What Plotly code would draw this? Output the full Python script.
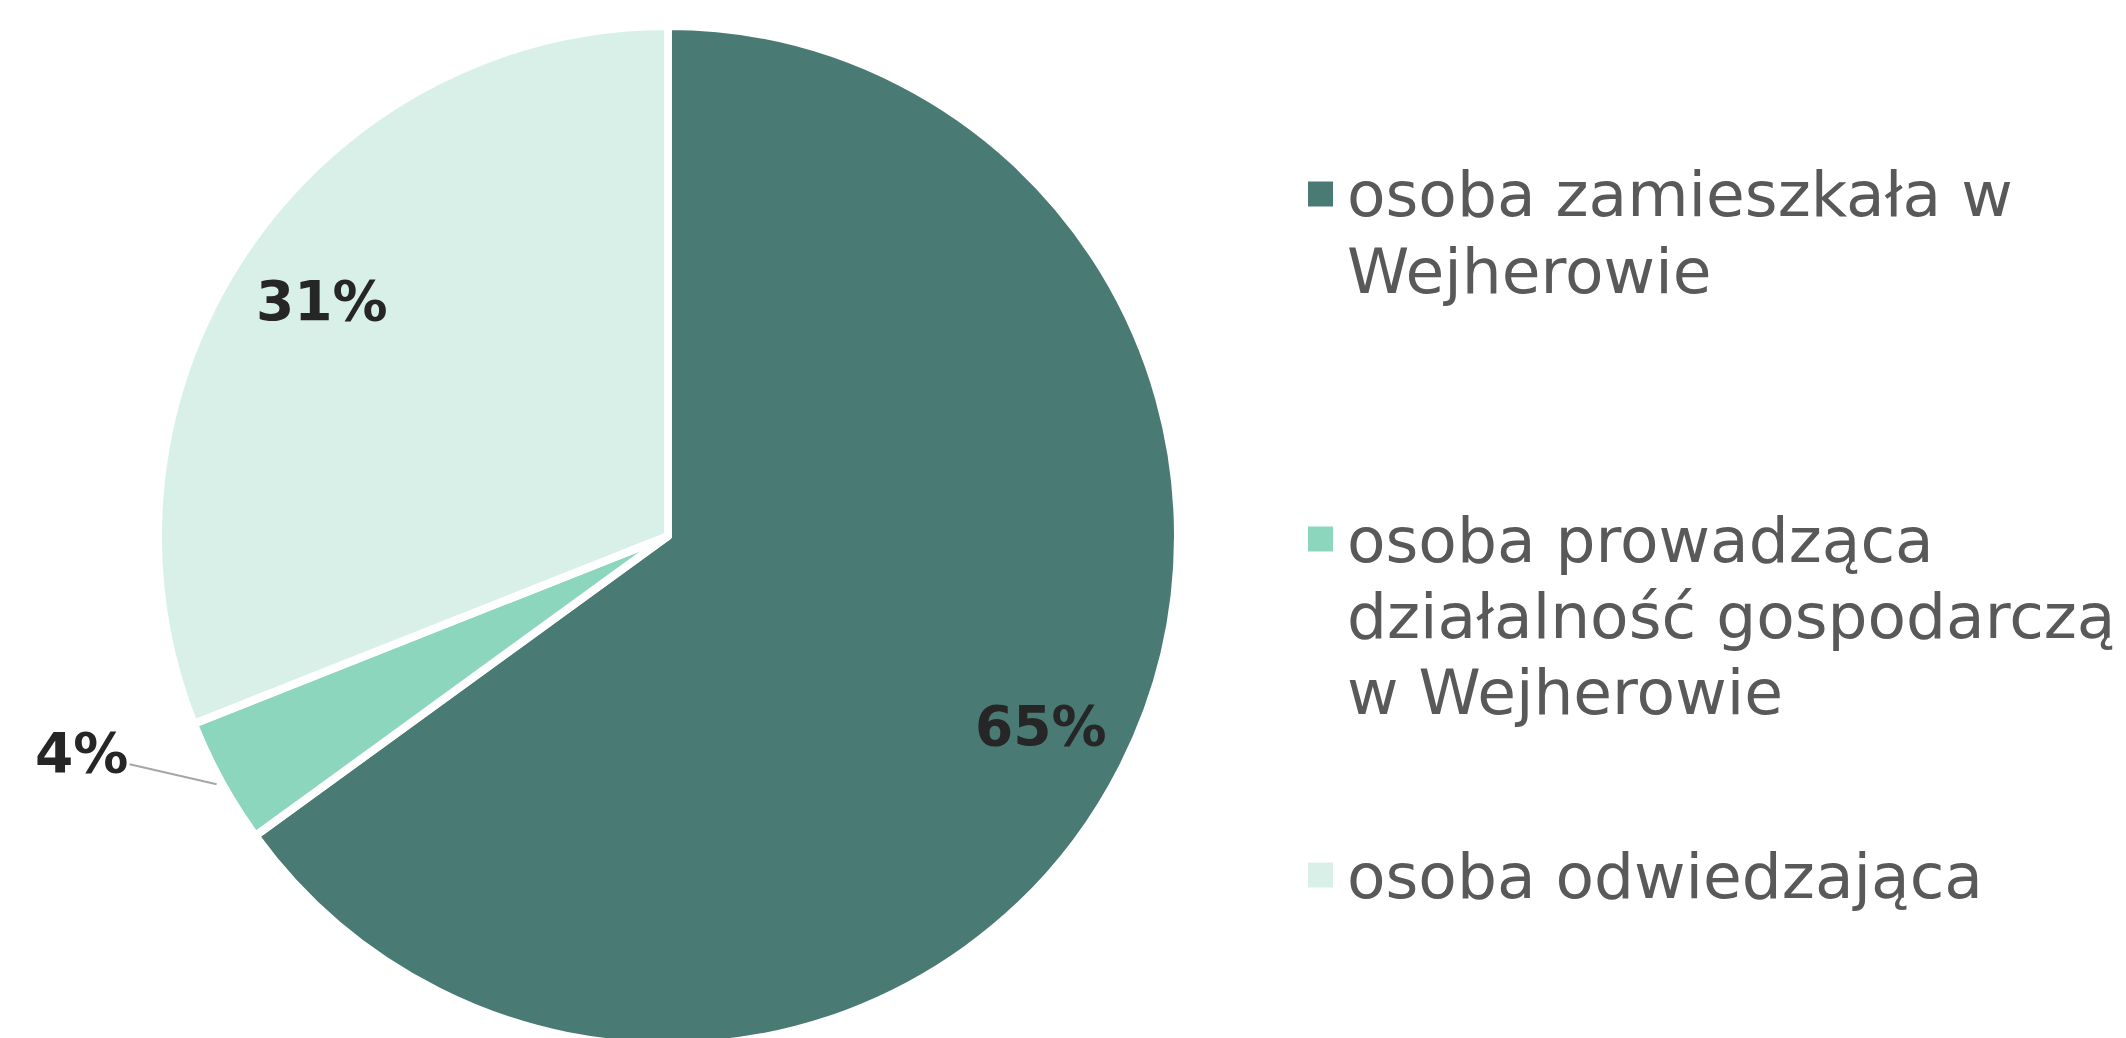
import math
import plotly.graph_objects as go

labels = ["osoba zamieszkała w Wejherowie",
          "osoba prowadząca działalność gospodarczą w Wejherowie",
          "osoba odwiedzająca"]
legend_lines = [["osoba zamieszkała w", "Wejherowie"],
                ["osoba prowadząca", "działalność gospodarczą", "w Wejherowie"],
                ["osoba odwiedzająca"]]
values = [65, 4, 31]
colors = ["#497A74", "#8DD6BE", "#D9F0E8"]

W, H = 2126, 1038
cx, cy, R = 660, 528, 510

fig = go.Figure(go.Pie(
    labels=labels, values=values, sort=False, direction="clockwise", rotation=0,
    marker=dict(colors=colors, line=dict(color="white", width=8)),
    textinfo="none", showlegend=False, hoverinfo="label+percent",
    domain=dict(x=[(cx - R) / W, (cx + R) / W],
                y=[max(0.0, 1 - (cy + R) / H), min(1.0, 1 - (cy - R) / H)]),
))

# data labels placed along each slice's mid-angle
total = sum(values)
cum = 0
for v in values:
    theta = math.radians((cum + v / 2) / total * 360)
    cum += v
    sx, sy = math.sin(theta), -math.cos(theta)
    txt = f"<b>{v}%</b>"
    font = dict(family="DejaVu Sans", size=55, color="#262626")
    if v / total >= 0.1:
        px, py = cx + 0.82 * R * sx, cy + 0.82 * R * sy
        fig.add_annotation(x=px / W, y=1 - py / H, xref="paper", yref="paper",
                           text=txt, showarrow=False, font=font,
                           xanchor="center", yanchor="middle")
    else:
        px, py = cx + 1.01 * R * sx, cy + 1.01 * R * sy
        fig.add_annotation(x=px / W, y=1 - py / H, xref="paper", yref="paper",
                           text=txt, showarrow=True, arrowhead=0, arrowwidth=2,
                           arrowcolor="#A6A6A6", ax=-135, ay=-31, standoff=0,
                           font=font)

# custom legend
line_gap = 76
first_line_centers = [194, 539, 875]
for lines, col, y0 in zip(legend_lines, colors, first_line_centers):
    for i, ln in enumerate(lines):
        yc = y0 + i * line_gap - 7
        fig.add_annotation(x=1337 / W, y=1 - yc / H, xref="paper", yref="paper",
                           xanchor="left", yanchor="middle", align="left", showarrow=False,
                           text=ln, font=dict(family="DejaVu Sans", size=63, color="#595959"))
    ym = y0 - 8
    fig.add_shape(type="rect", xref="paper", yref="paper",
                  x0=1300 / W, x1=1325 / W, y0=1 - (ym + 12.5) / H, y1=1 - (ym - 12.5) / H,
                  fillcolor=col, line=dict(width=0))

fig.update_layout(width=W, height=H, margin=dict(l=0, r=0, t=0, b=0),
                  paper_bgcolor="white", plot_bgcolor="white")
fig.write_html("out.html")
